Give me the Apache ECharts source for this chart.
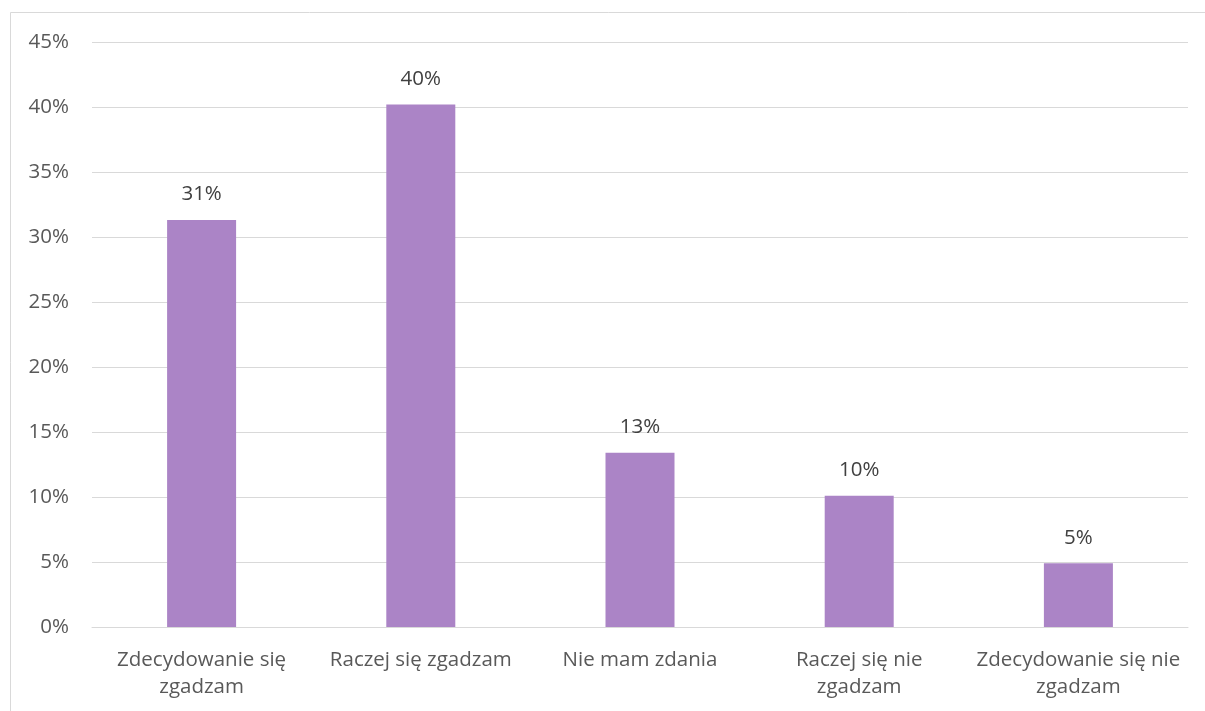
<!DOCTYPE html>
<html>
<head>
<meta charset="utf-8">
<script src="https://cdn.jsdelivr.net/npm/echarts@6/dist/echarts.min.js"></script>
<style>
html,body{margin:0;padding:0;background:#fff;}
#chart{width:1205px;height:711px;}
</style>
</head>
<body>
<div id="chart"></div>
<script>
const categories = ["Zdecydowanie się\nzgadzam", "Raczej się zgadzam", "Nie mam zdania", "Raczej się nie\nzgadzam", "Zdecydowanie się nie\nzgadzam"];
const values = [31.3, 40.2, 13.4, 10.1, 4.9];
const yTicks = [0, 5, 10, 15, 20, 25, 30, 35, 40, 45];

const chart = echarts.init(document.getElementById('chart'), null, {renderer: 'canvas'});
const FONT = '"Open Sans", "DejaVu Sans", sans-serif';
chart.setOption({
  animation: false,
  backgroundColor: '#ffffff',
  graphic: [{
    type: 'rect',
    shape: {x: 10.5, y: 12.5, width: 1300, height: 800},
    style: {fill: 'none', stroke: '#d9d9d9', lineWidth: 1},
    silent: true
  }],
  grid: {left: 92, right: 17, top: 42, bottom: 84},
  xAxis: {
    type: 'category',
    data: categories,
    axisLine: {show: true, lineStyle: {color: '#d9d9d9', width: 1}},
    axisTick: {show: false},
    axisLabel: {
      color: '#595959', fontFamily: FONT, fontSize: 20.5, lineHeight: 27,
      margin: 20, interval: 0, align: 'center'
    },
    splitLine: {show: false}
  },
  yAxis: {
    type: 'value',
    min: yTicks[0],
    max: yTicks[yTicks.length - 1],
    interval: 5,
    axisLine: {show: false},
    axisTick: {show: false},
    axisLabel: {
      color: '#595959', fontFamily: FONT, fontSize: 20.5, margin: 23,
      formatter: v => v + '%'
    },
    splitLine: {show: true, lineStyle: {color: '#d9d9d9', width: 1}}
  },
  series: [{
    type: 'bar',
    data: values,
    barWidth: 69,
    itemStyle: {color: '#ab84c6'},
    label: {
      show: true,
      position: 'top',
      distance: 15,
      color: '#404040',
      fontFamily: FONT,
      fontSize: 20.5,
      formatter: p => Math.round(p.value) + '%'
    }
  }]
});
</script>
</body>
</html>
